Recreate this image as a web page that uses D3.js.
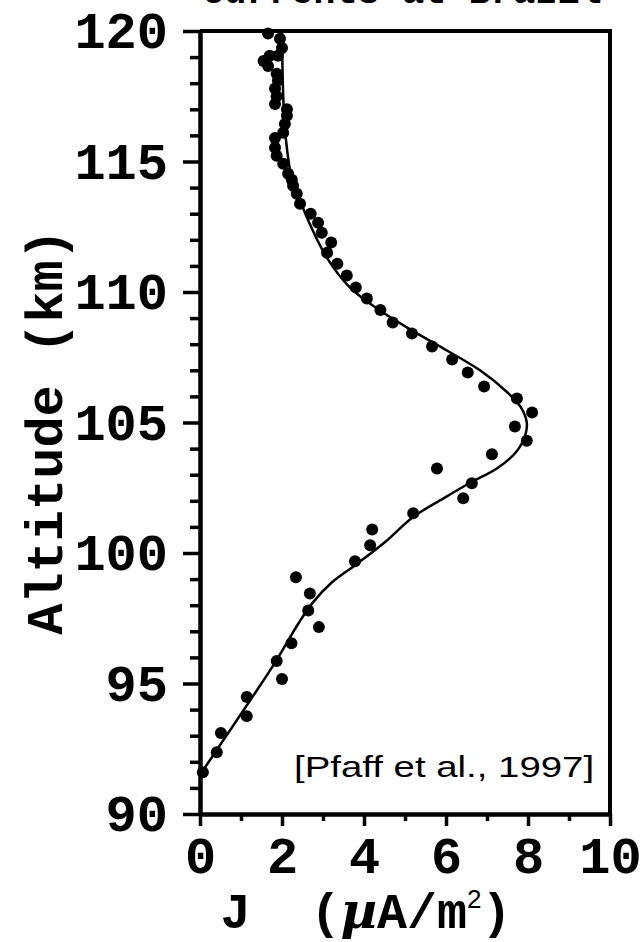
<!DOCTYPE html>
<html>
<head>
<meta charset="utf-8">
<script src="https://cdn.jsdelivr.net/npm/d3@7"></script>
<style>
  body { margin: 0; background: #fff; }
  svg { display: block; }
</style>
</head>
<body>
<span></span>
<script>
// measured current density points (J in uA/m2, altitude in km)
let pointJ = [0.07, 0.41, 0.51, 1.14, 1.14, 2.0, 1.87, 2.23, 2.9, 2.64, 2.68, 2.34, 3.78, 4.15, 4.2,
    5.2, 6.42, 6.63, 5.78, 7.12, 7.97, 7.68, 8.1, 7.73, 6.93, 6.53, 6.15, 5.66, 5.17, 4.7, 4.4,
    4.07, 3.8, 3.58, 3.35, 3.1, 3.2, 2.97, 2.88, 2.7, 2.44, 2.36, 2.27, 2.24, 2.15, 2.03, 1.87,
    1.83, 1.83, 2.03, 2.07, 2.12, 2.12, 1.83, 1.87, 1.83, 1.9, 1.87, 1.66, 1.55, 1.7, 1.9, 2.0, 1.95, 1.66];
let pointAlt = [91.6, 92.37, 93.1, 93.75, 94.48, 95.17, 95.86, 96.54, 97.16, 97.8, 98.45, 99.07, 99.68, 100.3, 100.9,
    101.52, 102.1, 102.67, 103.24, 103.78, 104.3, 104.85, 105.38, 105.92, 106.38, 106.92, 107.41, 107.91, 108.41, 108.83, 109.31,
    109.75, 110.17, 110.63, 111.08, 111.5, 111.9, 112.27, 112.65, 113.0, 113.38, 113.76, 114.07, 114.3, 114.53, 114.91, 115.22,
    115.53, 115.9, 116.1, 116.44, 116.75, 117.0, 117.2, 117.5, 117.8, 118.1, 118.36, 118.66, 118.85, 119.05, 119.05, 119.35, 119.7, 119.9];

// fitted profile
let fitJ = [0.0, 0.6, 1.2, 1.85, 2.4, 2.75, 3.2, 3.8, 4.5, 5.2, 6.0, 6.6, 7.25, 7.7, 7.93,
    7.97, 7.82, 7.5, 6.83, 6.02, 5.2, 4.4, 3.66, 3.1, 2.68, 2.44, 2.22, 2.12, 2.06, 2.02, 2.0];
let fitAlt = [91.5, 92.9, 94.3, 95.85, 97.3, 98.1, 98.85, 99.55, 100.4, 101.38, 102.15, 102.7, 103.25, 103.85, 104.5,
    105.0, 105.6, 106.15, 107.0, 107.76, 108.5, 109.28, 110.17, 111.3, 112.6, 113.5, 114.5, 115.5, 116.5, 118.0, 120.0];

let xMajor = [0, 2, 4, 6, 8, 10];
let xMinor = [1, 3, 5, 7, 9];
let yMajor = [90, 95, 100, 105, 110, 115, 120];
let yMinor = [91, 92, 93, 94, 96, 97, 98, 99, 101, 102, 103, 104, 106, 107, 108, 109, 111, 112, 113, 114, 116, 117, 118, 119];

let width = 641;
let height = 942;
let plotLeft = 200, plotRight = 610, plotTop = 31, plotBottom = 814;
let monoFont = "'Courier New', 'Liberation Mono', monospace";

let svg = d3.select("span")
    .append("svg")
    .attr("width", width)
    .attr("height", height);

let x = d3.scaleLinear().domain([0, 10]).range([plotLeft, plotRight]);
let y = d3.scaleLinear().domain([90, 120]).range([plotBottom, plotTop]);

// title, cut off at the top edge as in the source
svg.append("text")
    .attr("x", 402)
    .attr("y", 3)
    .attr("text-anchor", "middle")
    .style("font-family", monoFont)
    .style("font-weight", "bold")
    .style("font-size", "37px")
    .text("Currents at Brazil");

// minor ticks
let yMinorAxis = svg.append("g")
    .attr("transform", `translate(${plotLeft},0)`)
    .call(d3.axisLeft(y).tickValues(yMinor).tickSize(10).tickSizeOuter(0).tickFormat(""));
let xMinorAxis = svg.append("g")
    .attr("transform", `translate(0,${plotBottom})`)
    .call(d3.axisBottom(x).tickValues(xMinor).tickSize(7).tickSizeOuter(0).tickFormat(""));

// major ticks with labels
let yAxis = svg.append("g")
    .attr("transform", `translate(${plotLeft},0)`)
    .call(d3.axisLeft(y).tickValues(yMajor).tickSize(17).tickSizeOuter(0).tickPadding(15).tickFormat(d3.format("d")));
let xAxis = svg.append("g")
    .attr("transform", `translate(0,${plotBottom})`)
    .call(d3.axisBottom(x).tickValues(xMajor).tickSize(12).tickSizeOuter(0).tickPadding(10).tickFormat(d3.format("d")));

[yMinorAxis, xMinorAxis, yAxis, xAxis].forEach(function (ax) {
    ax.selectAll("line").style("stroke", "black").style("stroke-width", 3.5);
    ax.select(".domain").style("stroke", "black").style("stroke-width", 4);
    ax.selectAll("text")
        .style("font-family", monoFont)
        .style("font-weight", "bold")
        .style("font-size", "52px")
        .style("fill", "black");
});

// frame: top and right
svg.append("line")
    .attr("x1", x(0)).attr("y1", y(120)).attr("x2", x(10) + 2).attr("y2", y(120))
    .style("stroke", "black").style("stroke-width", 4);
svg.append("line")
    .attr("x1", x(10)).attr("y1", y(120)).attr("x2", x(10)).attr("y2", y(90))
    .style("stroke", "black").style("stroke-width", 4);

// fitted curve
let fitData = fitJ.map((d, i) => ({ j: d, alt: fitAlt[i] }));
let line = d3.line()
    .x((d) => x(d.j))
    .y((d) => y(d.alt))
    .curve(d3.curveCatmullRom);

svg.append("path")
    .attr("d", line(fitData))
    .attr("fill", "none")
    .attr("stroke", "black")
    .attr("stroke-width", 2.5);

// data points
let points = pointJ.map((d, i) => ({ j: d, alt: pointAlt[i] }));
svg.append("g").selectAll("circle")
    .data(points)
    .join("circle")
    .attr("cx", (d) => x(d.j))
    .attr("cy", (d) => y(d.alt))
    .attr("r", 6)
    .style("fill", "black");

// axis titles
svg.append("text")
    .attr("transform", "translate(62,432) rotate(-90)")
    .attr("text-anchor", "middle")
    .style("font-family", monoFont)
    .style("font-weight", "bold")
    .style("font-size", "52px")
    .text("Altitude (km)");

let xTitle = svg.append("text")
    .attr("x", 366)
    .attr("y", 928)
    .attr("text-anchor", "middle")
    .style("font-family", monoFont)
    .style("font-weight", "bold")
    .style("font-size", "50px");
xTitle.append("tspan").text("J\u00a0\u00a0(");
xTitle.append("tspan").style("font-style", "italic").style("font-family", "'DejaVu Serif', serif").text("µ");
xTitle.append("tspan").text("A/m");
xTitle.append("tspan").attr("dy", -20).style("font-size", "26px").style("font-family", "'Liberation Sans', sans-serif").style("font-weight", "normal").text("2");
xTitle.append("tspan").attr("dy", 20).text(")");

// reference note
svg.append("g")
    .attr("transform", "translate(294,777) scale(1.28,1)")
    .append("text")
    .style("font-family", "'Liberation Sans', Arial, sans-serif")
    .style("font-size", "30px")
    .text("[Pfaff et al., 1997]");
</script>
</body>
</html>
